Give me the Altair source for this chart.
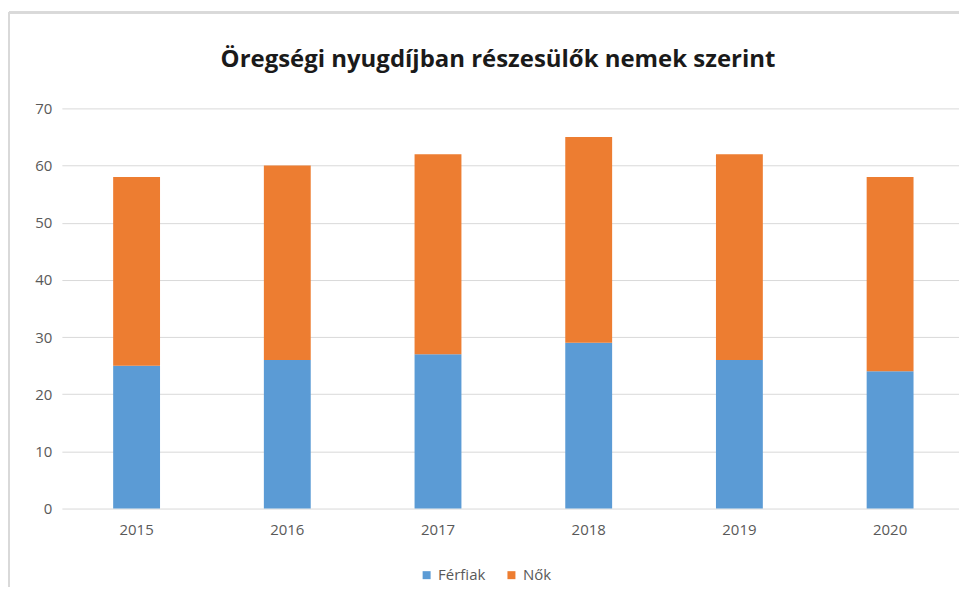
import altair as alt
import pandas as pd

years = ["2015", "2016", "2017", "2018", "2019", "2020"]
ferfiak = [25, 26, 27, 29, 26, 24]
nok = [33, 34, 35, 36, 36, 34]
series = ["Férfiak", "Nők"]
colors = ["#5B9BD5", "#ED7D31"]
y_ticks = [0, 10, 20, 30, 40, 50, 60, 70]
title_text = "Öregségi nyugdíjban részesülők nemek szerint"

rows = []
for i, yr in enumerate(years):
    rows.append({"Év": yr, "Nem": series[0], "Érték": ferfiak[i], "rend": 0})
    rows.append({"Év": yr, "Nem": series[1], "Érték": nok[i], "rend": 1})
df = pd.DataFrame(rows)

W = 899
H = 401
TXT = "#595959"
FONT = "Open Sans"

bars = alt.Chart(df).mark_bar().encode(
    x=alt.X("Év:N", sort=years, title=None,
            scale=alt.Scale(paddingInner=0.689, paddingOuter=0.321, align=0.53),
            axis=alt.Axis(labelAngle=0, domain=False, ticks=False, grid=False,
                          labelPadding=14, labelFontSize=15, labelColor=TXT, labelFont=FONT)),
    y=alt.Y("Érték:Q", title=None, stack="zero",
            scale=alt.Scale(domain=[0, 70], nice=False),
            axis=alt.Axis(values=y_ticks, domain=False, ticks=False, grid=True,
                          gridColor="#d9d9d9", gridWidth=1, labelPadding=10,
                          labelFontSize=15, labelColor=TXT, labelFont=FONT)),
    color=alt.Color("Nem:N", scale=alt.Scale(domain=series, range=colors),
                    legend=alt.Legend(orient="none", legendX=358, legendY=460,
                                      direction="horizontal", title=None,
                                      symbolType="square", symbolSize=64,
                                      symbolStrokeWidth=0, labelFontSize=15,
                                      labelColor=TXT, labelFont=FONT,
                                      columnPadding=18, labelOffset=4)),
    order=alt.Order("rend:Q"),
)

frame_left = alt.Chart(df).mark_rule(color="#d9d9d9", strokeWidth=2).encode(
    x=alt.value(-53), y=alt.value(-96), y2=alt.value(520))
frame_top = alt.Chart(df).mark_rule(color="#d9d9d9", strokeWidth=2).encode(
    x=alt.value(-53), x2=alt.value(910), y=alt.value(-96))

title = alt.Chart(pd.DataFrame({"t": [title_text]})).mark_text(
    font=FONT, fontSize=24, fontWeight="bold", color="#1a1a1a",
    align="center", baseline="alphabetic").encode(
    text="t:N", x=alt.value(437), y=alt.value(-41))

chart = alt.layer(frame_left, frame_top, title, bars).properties(
    width=W, height=H,
    autosize=alt.AutoSizeParams(type="none"),
    padding={"left": 54, "top": 100, "right": 0, "bottom": 78},
).configure_view(stroke=None)

chart.save("out.html", embed_options={"renderer": "svg", "actions": False})
